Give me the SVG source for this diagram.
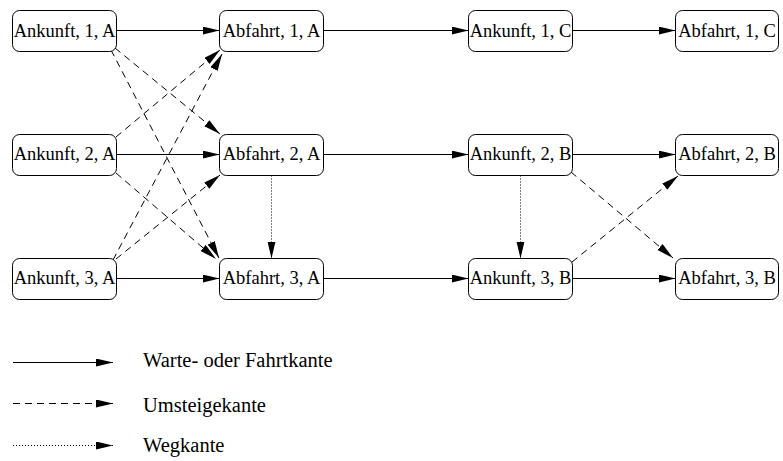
<svg xmlns="http://www.w3.org/2000/svg" width="783" height="461" viewBox="0 0 783 461">
  <style>
    .box { fill: #fff; stroke: #000; stroke-width: 1; }
    .lbl { font-family: "Liberation Serif", "Times New Roman", serif; font-size: 18.5px; fill: #000; text-anchor: middle; }
    .leg { font-family: "Liberation Serif", "Times New Roman", serif; font-size: 20.5px; fill: #000; }
    .e { fill: none; stroke: #000; stroke-width: 1; marker-end: url(#ah); }
    .dash { stroke-dasharray: 7 5; }
    .dot { stroke-dasharray: 1 2; }
  </style>
  <defs>
    <marker id="ah" markerUnits="userSpaceOnUse" markerWidth="18" markerHeight="10" refX="17" refY="4" orient="auto">
      <path d="M0,0 L17,4 L0,8 Z" fill="#000"/>
    </marker>
  </defs>

  <!-- connectors -->
  <g id="connectors">
    <!-- waiting / travel edges -->
    <line class="e" x1="116.5" y1="30.5" x2="219.5" y2="30.5"/>
    <line class="e" x1="323.5" y1="30.5" x2="468.5" y2="30.5"/>
    <line class="e" x1="572.5" y1="30.5" x2="675.5" y2="30.5"/>
    <line class="e" x1="116.5" y1="154.5" x2="219.5" y2="154.5"/>
    <line class="e" x1="323.5" y1="154.5" x2="468.5" y2="154.5"/>
    <line class="e" x1="572.5" y1="154.5" x2="675.5" y2="154.5"/>
    <line class="e" x1="116.5" y1="278.5" x2="219.5" y2="278.5"/>
    <line class="e" x1="323.5" y1="278.5" x2="468.5" y2="278.5"/>
    <line class="e" x1="572.5" y1="278.5" x2="675.5" y2="278.5"/>
    <!-- transfer edges -->
    <line class="e dash" x1="115" y1="48" x2="220" y2="134"/>
    <line class="e dash" x1="111" y1="50" x2="219" y2="258"/>
    <line class="e dash" x1="116" y1="137" x2="220" y2="50"/>
    <line class="e dash" x1="116" y1="173" x2="216" y2="259"/>
    <line class="e dash" x1="113" y1="260" x2="222" y2="54"/>
    <line class="e dash" x1="116" y1="259" x2="220" y2="175"/>
    <line class="e dash" x1="571" y1="172" x2="673" y2="258"/>
    <line class="e dash" x1="572" y1="262" x2="678" y2="176"/>
    <!-- walking edges -->
    <line class="e dot" x1="271.5" y1="175.5" x2="271.5" y2="258.5"/>
    <line class="e dot" x1="520.5" y1="175.5" x2="520.5" y2="258.5"/>
  </g>

  <!-- row 1 -->
  <g id="ank-1-A"><rect class="box" x="12.5" y="10.5" width="104" height="41" rx="7"/><text class="lbl" x="64.5" y="36.5">Ankunft, 1, A</text></g>
  <g id="abf-1-A"><rect class="box" x="219.5" y="10.5" width="104" height="41" rx="7"/><text class="lbl" x="271.5" y="36.5">Abfahrt, 1, A</text></g>
  <g id="ank-1-C"><rect class="box" x="468.5" y="10.5" width="104" height="41" rx="7"/><text class="lbl" x="520.5" y="36.5">Ankunft, 1, C</text></g>
  <g id="abf-1-C"><rect class="box" x="675.5" y="10.5" width="103" height="41" rx="7"/><text class="lbl" x="727" y="36.5">Abfahrt, 1, C</text></g>

  <!-- row 2 -->
  <g id="ank-2-A"><rect class="box" x="12.5" y="134.5" width="104" height="41" rx="7"/><text class="lbl" x="64.5" y="160">Ankunft, 2, A</text></g>
  <g id="abf-2-A"><rect class="box" x="219.5" y="134.5" width="104" height="41" rx="7"/><text class="lbl" x="271.5" y="160">Abfahrt, 2, A</text></g>
  <g id="ank-2-B"><rect class="box" x="468.5" y="134.5" width="104" height="41" rx="7"/><text class="lbl" x="520.5" y="160">Ankunft, 2, B</text></g>
  <g id="abf-2-B"><rect class="box" x="675.5" y="134.5" width="103" height="41" rx="7"/><text class="lbl" x="727" y="160">Abfahrt, 2, B</text></g>

  <!-- row 3 -->
  <g id="ank-3-A"><rect class="box" x="12.5" y="258.5" width="104" height="41" rx="7"/><text class="lbl" x="64.5" y="284">Ankunft, 3, A</text></g>
  <g id="abf-3-A"><rect class="box" x="219.5" y="258.5" width="104" height="41" rx="7"/><text class="lbl" x="271.5" y="284">Abfahrt, 3, A</text></g>
  <g id="ank-3-B"><rect class="box" x="468.5" y="258.5" width="104" height="41" rx="7"/><text class="lbl" x="520.5" y="284">Ankunft, 3, B</text></g>
  <g id="abf-3-B"><rect class="box" x="675.5" y="258.5" width="103" height="41" rx="7"/><text class="lbl" x="727" y="284">Abfahrt, 3, B</text></g>

  <!-- legend -->
  <g id="legend">
    <line class="e" x1="13" y1="362.5" x2="113" y2="362.5"/>
    <line class="e dash" x1="13" y1="403.5" x2="113" y2="403.5"/>
    <line class="e dot" x1="13" y1="445.5" x2="113" y2="445.5"/>
    <text class="leg" x="143" y="367">Warte- oder Fahrtkante</text>
    <text class="leg" x="143" y="412">Umsteigekante</text>
    <text class="leg" x="143" y="452">Wegkante</text>
  </g>
</svg>
